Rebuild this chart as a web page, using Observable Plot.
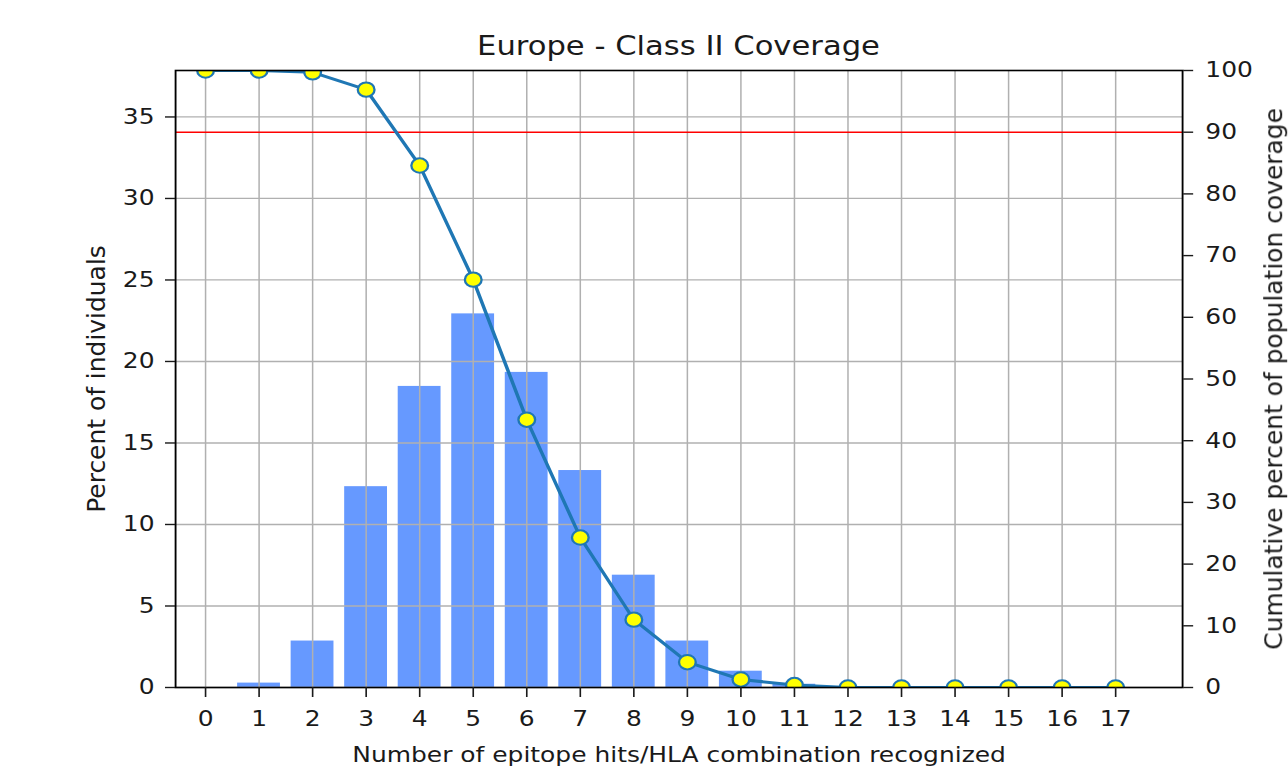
<!DOCTYPE html>
<html>
<head>
<meta charset="utf-8">
<script src="https://cdn.jsdelivr.net/npm/d3@7"></script>
<script src="https://cdn.jsdelivr.net/npm/@observablehq/plot@0.6"></script>
<style>
  html, body { margin: 0; padding: 0; background: #ffffff; }
  body { width: 1288px; height: 776px; overflow: hidden; position: relative; font-family: "DejaVu Sans", sans-serif; }
  #border { position: absolute; left: 10px; top: 0; width: 2px; height: 776px; background: #e0e0e0; }
  #wrap { position: absolute; left: 0; top: 0; transform-origin: 0 0; }
  #title { position: absolute; top: 33px; font-size: 26.4px; line-height: 26px; color: #1a1a1a; white-space: nowrap; transform: translateX(-50%); }
</style>
</head>
<body>
<div id="border"></div>
<div id="wrap"><div id="title"></div></div>
<script>
// ---- data ----
const hits = [0, 1, 2, 3, 4, 5, 6, 7, 8, 9, 10, 11, 12, 13, 14, 15, 16, 17];
const percentIndividuals = [0, 0.27, 2.85, 12.32, 18.47, 22.92, 19.33, 13.31, 6.89, 2.85, 1.0, 0.2, 0, 0, 0, 0, 0, 0];
const cumulativeCoverage = [100, 100, 99.7, 96.9, 84.6, 66.1, 43.4, 24.3, 11.0, 4.1, 1.3, 0.4, 0, 0, 0, 0, 0, 0];
const leftTicks = [0, 5, 10, 15, 20, 25, 30, 35];
const rightTicks = [0, 10, 20, 30, 40, 50, 60, 70, 80, 90, 100];
const xTicks = hits;
const threshold = 90;
const titleText = "Europe - Class II Coverage";
const xLabel = "Number of epitope hits/HLA combination recognized";
const yLabelLeft = "Percent of individuals";
const yLabelRight = "Cumulative percent of population coverage";

// ---- layout ----
const SX = 1.16;                 // horizontal stretch of the reference picture
const W = Math.round(1288 / SX);
const H = 776;
const frameL = 175 / SX, frameR = 1182 / SX;
const YMAX = 37.85;              // left axis top; right axis 0..100 maps onto 0..YMAX
const toLeft = v => v * YMAX / 100;

const bars = hits.map((h, i) => ({h, p: percentIndividuals[i]}));
const cum = hits.map((h, i) => ({h, c: cumulativeCoverage[i]}));

const FS = 21.5;
const chart = Plot.plot({
  width: W,
  height: H,
  marginTop: 70,
  marginBottom: 89,
  marginLeft: frameL,
  marginRight: W - frameR,
  x: {type: "linear", domain: [-0.56, 18.25], axis: null},
  y: {type: "linear", domain: [0, YMAX], axis: null},
  style: {fontFamily: "DejaVu Sans, sans-serif", fontSize: FS + "px", color: "#1a1a1a", background: "white", overflow: "visible"},
  marks: [
    Plot.rectY(bars, {x1: d => d.h - 0.4, x2: d => d.h + 0.4, y1: 0, y2: d => d.p, fill: "#6699ff"}),
    Plot.gridX(xTicks, {stroke: "#b0b0b0", strokeOpacity: 1, strokeWidth: 1.3}),
    Plot.gridY(leftTicks, {stroke: "#b0b0b0", strokeOpacity: 1, strokeWidth: 1.3}),
    Plot.ruleY([toLeft(threshold)], {stroke: "red", strokeWidth: 1.6}),
    Plot.line(cum, {x: "h", y: d => toLeft(d.c), stroke: "#1f77b4", strokeWidth: 3, clip: true}),
    Plot.dot(cum, {x: "h", y: d => toLeft(d.c), r: 7.2, fill: "yellow", stroke: "#1f77b4", strokeWidth: 2, clip: true}),
    Plot.frame({stroke: "black", strokeWidth: 1.6}),
    Plot.axisX(xTicks, {anchor: "bottom", tickSize: 10, tickPadding: 13.5, strokeWidth: 1.4, label: null, fontSize: FS, tickFormat: d => String(d)}),
    Plot.axisY(leftTicks, {anchor: "left", tickSize: 10 / SX, tickPadding: 9.5, strokeWidth: 1.4, label: null, fontSize: FS, tickFormat: d => String(d)}),
    Plot.axisY(rightTicks.map(toLeft), {anchor: "right", tickSize: 10 / SX, tickPadding: 11, strokeWidth: 1.4, label: null, fontSize: FS, tickFormat: d => String(Math.round(d * 100 / YMAX))}),
    Plot.text([xLabel], {frameAnchor: "bottom", text: d => d, dy: 68, textAnchor: "middle", lineAnchor: "middle", fontSize: FS}),
    Plot.text([yLabelLeft], {frameAnchor: "left", text: d => d, dx: 96 / SX - frameL, rotate: -90, textAnchor: "middle", lineAnchor: "middle", fontSize: FS}),
    Plot.text([yLabelRight], {frameAnchor: "right", text: d => d, dx: 1274 / SX - frameR, rotate: -90, textAnchor: "middle", lineAnchor: "middle", fontSize: FS})
  ]
});

// rotated labels: lengthen along the baseline so glyphs keep the same proportions as the horizontal texts
for (const t of chart.querySelectorAll("text")) {
  if (t.textContent === yLabelLeft || t.textContent === yLabelRight) {
    const tr = t.getAttribute("transform");
    if (tr && tr.includes("rotate")) t.setAttribute("transform", tr + ` scale(${SX},1)`);
  }
}

const wrap = document.getElementById("wrap");
wrap.style.width = W + "px";
wrap.style.transform = `scaleX(${SX})`;
wrap.appendChild(chart);
const title = document.getElementById("title");
title.textContent = titleText;
title.style.left = ((frameL + frameR) / 2) + "px";
</script>
</body>
</html>
